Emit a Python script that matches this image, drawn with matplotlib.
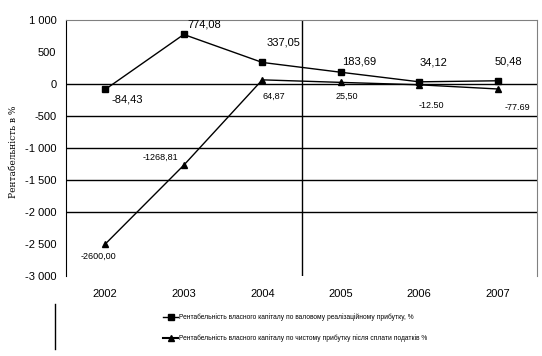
import matplotlib.pyplot as plt
from matplotlib.lines import Line2D

years = ["2002", "2003", "2004", "2005", "2006", "2007"]

# рентабельність по валовому прибутку, %
gross = [-84.43, 774.08, 337.05, 183.69, 34.12, 50.48]
gross_labels = ["-84,43", "774,08", "337,05", "183,69", "34,12", "50,48"]

# рентабельність по чистому прибутку, %
net = [-2500.00, -1268.81, 64.87, 25.50, -12.50, -77.69]
net_labels = ["-2600,00", "-1268,81", "64,87", "25,50", "-12.50", "-77.69"]

yticks = [1000, 500, 0, -500, -1000, -1500, -2000, -2500, -3000]
ytick_labels = ["1 000", "500", "0", "-500", "-1 000", "-1 500", "-2 000", "-2 500", "-3 000"]
grid_levels = [0, -500, -1000, -1500, -2000]

legend_gross = "Рентабельність власного капіталу по валовому реалізаційному прибутку, %"
legend_net = "Рентабельність власного капіталу по чистому прибутку після сплати податків %"

plt.rcParams['font.family'] = ['Liberation Sans', 'DejaVu Sans']

fig = plt.figure(figsize=(5.42, 3.56), dpi=100)
ax = fig.add_axes([0.1218, 0.2247, 0.869, 0.7191])

x = list(range(len(years)))

for lvl in grid_levels:
    ax.axhline(lvl, color='black', linewidth=1.0, zorder=1)
ax.axvline(2.5, color='black', linewidth=1.0, zorder=1)

ax.plot(x, gross, color='black', linewidth=1.0, marker='s', markersize=5, zorder=3)
ax.plot(x, net, color='black', linewidth=1.0, marker='^', markersize=5, zorder=3)

gross_off = [(16, -7), (15, 7), (15, 14), (13, 8), (10, 14), (8, 14)]
for i, (v, t) in enumerate(zip(gross, gross_labels)):
    ax.annotate(t, (i, v), xytext=gross_off[i], textcoords='offset points',
                ha='center', va='center', fontsize=8)

net_off = [(-5, -9), (-17, 6), (8, -12), (4, -10), (9, -15), (14, -13)]
for i, (v, t) in enumerate(zip(net, net_labels)):
    ax.annotate(t, (i, v), xytext=net_off[i], textcoords='offset points',
                ha='center', va='center', fontsize=6.5)

ax.set_xlim(-0.5, 5.5)
ax.set_ylim(-3000, 1000)
ax.set_xticks(x)
ax.set_xticklabels(years, fontsize=8)
ax.set_yticks(yticks)
ax.set_yticklabels(ytick_labels, fontsize=8)
ax.tick_params(axis='x', length=0, pad=9)
ax.tick_params(axis='y', length=0, pad=7)

ax.spines['bottom'].set_visible(False)
ax.spines['left'].set_color('black')
ax.spines['top'].set_color('gray')
ax.spines['right'].set_color('gray')

ax.set_ylabel("Рентабельність в %", family=['DejaVu Serif'], fontsize=6.5)
ax.yaxis.set_label_coords(-0.103, 0.485)

handles = [Line2D([], [], color='black', linewidth=1.0, marker='s', markersize=4),
           Line2D([], [], color='black', linewidth=1.5, marker='^', markersize=4)]
fig.legend(handles, [legend_gross, legend_net], loc='center', bbox_to_anchor=(0.545, 0.08),
           frameon=False, fontsize=4.8, handlelength=2.2, labelspacing=2.0, handletextpad=0.2)

fig.add_artist(Line2D([0.1015, 0.1015], [0.02, 0.145], color='black', linewidth=1.0))

fig.savefig("out.png", dpi=100)
